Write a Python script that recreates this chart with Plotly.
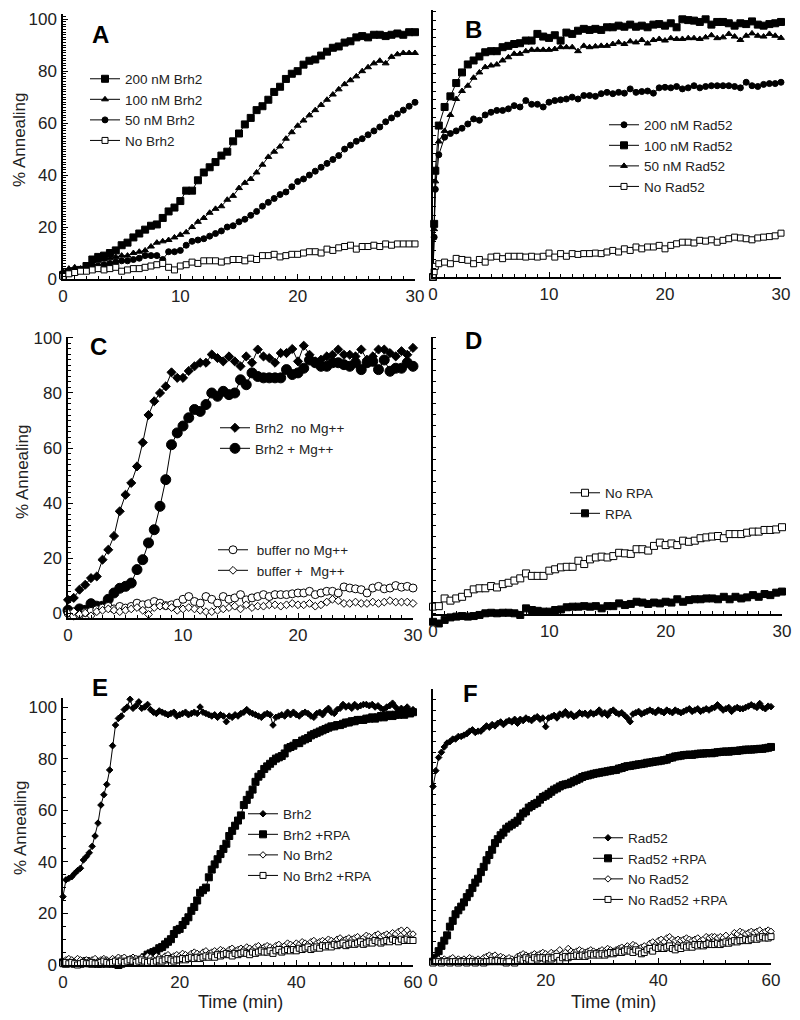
import plotly.graph_objects as go

# ---------------- DATA ----------------
tA = [i * 0.5 for i in range(61)]            # minutes, panels A, C, D
tB = [0, 0.1, 0.2] + [i * 0.5 for i in range(1, 61)]
tE = [i * 0.5 for i in range(121)]           # minutes, panels E, F

A_200 = [1.5, 2.5, 3, 3.5, 5, 7.5, 8.5, 9, 10, 11, 13, 14, 16, 17.5, 19, 20.5, 21, 23.5, 26, 27.5,
         30, 34, 34, 38, 41, 43, 45, 47.5, 49, 53, 56, 59.5, 62, 65, 66.5, 69, 72, 74, 77, 79,
         80, 82.5, 84, 84.5, 86, 87.5, 89, 89.5, 91, 91.5, 93, 93.5, 93, 94, 94, 93.5, 94, 94.5, 94, 95, 95]
A_100 = [3, 4, 4.5, 4, 5, 6, 7, 7.5, 8, 8.5, 9, 9, 10, 10.5, 11, 12.5, 14, 14.5, 15, 16,
         17, 18, 20, 22, 23.5, 25.5, 27, 28, 30.5, 32, 35, 37, 38.5, 41, 44, 47, 49, 51, 54, 56.5,
         59, 61, 63, 65, 67, 69, 71, 73, 75, 76.5, 78, 80, 81.5, 83, 84, 83, 85.5, 86.5, 87, 87, 87]
A_50 = [2, 2.5, 3, 3.5, 4, 4.5, 5, 5.5, 6, 6.5, 7, 7, 7.5, 8, 9, 9, 9, 7.5, 10.5, 10.5,
        11, 13, 14.5, 15, 15.5, 16.5, 17.5, 18.5, 20, 20.5, 22, 23, 24.5, 26, 28, 29.5, 31, 32.5, 33.5, 35.5,
        37.5, 38.5, 40, 41.5, 43, 44.5, 46, 47.5, 50, 51.5, 53, 54, 55.5, 57, 58.5, 60.5, 62, 63.5, 65, 66.5, 68]
A_no = [1, 2, 2.5, 3, 3, 3.5, 4, 3.5, 4, 4.5, 3, 3.5, 4, 4, 4.5, 5, 5.5, 6, 4.5, 3.5,
        5, 5.5, 6.5, 6, 7, 7, 7, 6.5, 7, 7.5, 7.5, 7, 8, 7.5, 9, 9, 9.5, 8.5, 9, 9.5,
        9.5, 10, 10.5, 10.5, 10, 11.5, 11, 12, 12.5, 13, 11.5, 12.5, 12.5, 13, 12.5, 13.5, 13, 13.5, 13.5, 13.5, 13.5]

B_200 = [0, 15, 33,
         46, 52.6, 54, 55, 56, 57.6, 59.5, 59, 61, 62, 62.7, 62.7, 63.3, 64.5, 64, 66.4, 65, 65, 64, 65.8,
         66.4, 66.7, 67, 67.7, 67, 68.3, 68.3, 68, 69, 69.5, 69, 69.5, 69.2, 70.8, 69.5, 69.8, 70, 69.2, 71.2, 71.4,
         71.2, 71.7, 70.8, 71.2, 72, 71.2, 71.7, 72, 72, 72, 72, 71.7, 71.2, 73.3, 72, 71.7, 72.5, 72.8, 72.8, 73.3]
B_100 = [0, 20, 40,
         57, 64, 68, 73, 77, 80, 81.5, 83, 84.6, 85, 85, 86.5, 87, 87.7, 88, 89, 89, 91.5, 90.5, 90,
         91, 89, 92, 91.5, 92.7, 93.4, 93, 93.4, 93, 94, 94, 94.6, 94.2, 95, 94.2, 94.6, 94, 95, 95.2, 94.6,
         95.5, 94, 97, 96.7, 96.5, 96, 97, 95, 96, 96, 95.5, 94.6, 95.5, 95.2, 96.2, 95, 94.6, 95.2, 95.5, 96]
B_50 = [0, 18, 36,
        51, 55, 61, 67, 70, 72, 75, 77, 79, 79.6, 80, 81.5, 82.7, 84, 84, 85, 85.5, 85.5, 85.5, 85.5,
        85.8, 86.5, 86.5, 86.5, 85, 87, 86.5, 86.8, 87, 87, 87.7, 88.3, 87.7, 88.7, 88.3, 89.2, 87.9, 89.2, 89.6, 89,
        89.9, 89.6, 89.6, 89.9, 89.9, 89.6, 90.2, 91, 89.9, 90.2, 91.5, 90.5, 89.2, 90.8, 91.7, 90.8, 90.5, 91.5, 90.8, 90]
B_no = [0, 2, 4,
        5, 5.6, 5, 7, 6.6, 6.3, 5, 6.6, 5.6, 7.5, 7.8, 6.9, 7.8, 7.8, 7.8, 7.5, 7.8, 7.5, 7.8, 9,
        7.5, 8.8, 7.8, 8.8, 8.5, 8.8, 8.8, 9, 8.8, 9.4, 10, 9.4, 10.6, 10, 11.3, 10.6, 11.3, 11.3, 11.9, 10.6,
        11.9, 12.5, 13.1, 13.1, 12.8, 13.8, 13.5, 14, 13.1, 13.8, 14.4, 15, 14.7, 14.4, 14, 14.7, 15, 15.2, 15.5, 16.5]

C_brh2_noMg = [4.8, 5.5, 8.5, 10.3, 12.7, 13.3, 19.4, 23, 28, 37, 43, 47.3, 53.3, 62, 72, 77, 80, 82.4, 87.5, 85.5,
               85.5, 88, 89.7, 91, 91, 94, 92.7, 91.5, 93.3, 91.5, 89.7, 93.3, 91, 95.8, 93.3, 92.7, 91, 94.5, 94.5, 96,
               91.5, 97.2, 93.9, 91.5, 92.1, 93.3, 93.9, 95.8, 93.9, 93.9, 93.3, 95.8, 92.1, 93.3, 95.8, 95.8, 94.5, 93.3, 95.2, 93.9, 96.4]
C_brh2_Mg = [1, 0, 1.5, 1, 3.4, 2.5, 2.5, 5, 7.3, 9, 9.7, 10.9, 15.8, 19.4, 25.5, 30.3, 38.8, 48.5, 61.2, 65.5,
             68, 71, 74, 73.3, 75.8, 80, 78.8, 80.6, 79.4, 80, 84.8, 83, 87.3, 86, 85.5, 85.5, 85.5, 85.5, 88.5, 86.7,
             87.3, 89, 92, 91, 89.7, 89.7, 91, 91, 90.3, 89.7, 91, 88.5, 91, 91.5, 88.5, 92, 87.9, 89, 89, 91, 89.7]
C_buf_noMg = [0, -1, -0.6, 0.2, 0.6, 1.2, 1.8, 2.4, 1.5, 2.4, 1.8, 2.4, 3.6, 3, 3.4, 4.2, 3.6, 2.7, 3, 3.6,
              5, 6, 4.2, 3.6, 6, 5, 3.6, 6, 5, 5.5, 6.7, 4.8, 5.5, 6, 6.7, 6, 6.7, 6.7, 6.7, 7,
              7.3, 7.3, 7.9, 6.7, 7.3, 7.9, 7.9, 7.3, 9.5, 9.1, 8.8, 8.5, 7.3, 9.1, 9.7, 8.8, 9.1, 10, 9.4, 9.7, 9.1]
C_buf_Mg = [0, 0.5, -0.5, 0, -1, 0.5, 1, 1.5, 1, 0.5, 1, 1.5, 2, 1, -0.5, 2, 2.5, 2.5, 2, 1,
            1.5, 2, 1.5, 1, 0.5, 0.5, 1, 1.5, 2, 2.5, 1.5, 3, 2, 2.5, 2.5, 3, 3, 2.5, 3, 3.5,
            3, 3, 3.5, 2.5, 3, 4, 5, 4.5, 3.5, 3.5, 4, 3.5, 3.5, 4, 3.5, 4, 4.5, 4, 4, 4, 3.5]

D_noRPA = [2.3, 2.5, 5.3, 4.5, 5.3, 5.9, 7.2, 8.6, 9, 9, 9.8, 9.3, 10.5, 11, 11.8, 12.6, 14.4, 13.5, 13.5, 13.5,
           15.4, 15.9, 16.6, 16.8, 16.8, 19, 17.8, 19.5, 20.2, 20.5, 20.2, 20.7, 21.9, 21.7, 21.5, 23.2, 23.2, 22.7, 24.4, 25.6,
           24.7, 25.3, 24.7, 26.3, 25.9, 26.3, 27.2, 27.5, 27.8, 28, 27.2, 28.7, 28.7, 28.7, 29.2, 29.6, 29.6, 30.2, 30.2, 30.4, 31.2]
D_RPA = [-3.2, -3.8, -2.5, -1.6, -1.3, -1.1, -1.3, -1.1, -0.7, -0.1, 0.1, -0.1, 0.1, 0.1, -0.1, -0.7, 1.7, 1.1, 0.8, 0.5,
         0.5, 1.1, 1.3, 2.1, 2.3, 2.3, 2.5, 2.3, 2.5, 1.7, 2.5, 2.5, 3.5, 2.9, 3.3, 4.1, 3.8, 3.3, 3.8, 3.5,
         4.1, 3.8, 5, 4.1, 4.7, 5, 5, 5.3, 5.3, 5, 5.9, 5, 5.9, 5.3, 5.7, 6.5, 5.9, 6.9, 6.5, 7.4, 7.8]

E_brh2 = [26.5, 33, 33.6, 34.2, 35.5, 36.6, 37.5, 40.7, 42, 43.5,
          46, 50, 55, 62, 66, 70, 75.6, 85, 93, 95.6,
          96.5, 99, 100, 103, 99.5, 100.5, 102, 99.5, 100, 101,
          99, 98, 97.5, 98.5, 98, 97.5, 97, 97.5, 98, 96.5,
          97, 97.5, 98, 97, 97.5, 98, 97.5, 100, 98, 97.5,
          97, 96.5, 97, 96, 97, 96.5, 94.3, 96.5, 96, 97,
          96.5, 97.5, 98, 99, 98, 97.5, 97, 96.5, 96, 97,
          97.5, 97, 93, 96, 96.5, 97, 96.5, 98, 97, 98,
          97, 96.5, 97.5, 98, 97.5, 96.5, 96, 97.5, 98, 97,
          98.5, 99.5, 98, 97.5, 99, 99.5, 101, 100, 100.5, 99.5,
          101, 100, 100.5, 101, 101, 100.5, 101, 100, 100.5, 99.5,
          99, 100, 100.5, 101.5, 100, 98.5, 99.5, 99, 100, 98.5,
          99]
E_brh2_RPA = [1, 0.5, 1.5, 1, 0.5, 1, 0.5, 1, 1.5, 1,
              0.5, 1, 0.5, 0.5, 1, 0.5, 1, 0.5, 0.5, 0,
              0.5, 1, 1, 1.5, 1, 1.5, 2, 2, 3, 4,
              4.5, 5, 5.5, 6.5, 7, 8, 9, 10, 12, 13.5,
              14, 15.5, 17, 18.5, 21, 22.5, 25, 28, 29, 30,
              34, 37, 39, 41, 43, 45, 47, 50, 52, 54,
              56, 58, 62, 64, 66, 68, 71, 73, 74, 76,
              77, 78, 79, 80, 80.5, 81, 82, 84, 84.5, 85,
              86, 86, 87, 87.5, 88, 89, 89.5, 90, 90.5, 91,
              91.5, 92, 92.5, 92.5, 93, 93, 93.5, 94, 94, 94.5,
              94.5, 95, 95, 95, 95.5, 95.5, 96, 95.5, 96, 96.5,
              96, 96.5, 97, 96.5, 97, 97, 97.5, 97, 98, 97.5,
              98]
E_no = [1.5, 2, 2.5, 2, 1.5, 2.5, 2, 1.5, 2, 1.5,
        2, 2.5, 1.5, 2, 2.5, 2, 1.5, 2.5, 2, 3,
        2.5, 3, 2, 2.5, 3, 2.5, 2, 3, 2.5, 3.5,
        3, 2.5, 3.5, 3, 2.5, 3.5, 4, 3, 3.5, 4,
        3.5, 4.5, 4, 3.5, 4.5, 5, 4.5, 4, 5, 5.5,
        4.5, 5, 5.5, 5, 6, 5.5, 5, 6, 6.5, 5.5,
        6, 6.5, 6, 7, 6.5, 6, 7, 7.5, 6.5, 7,
        7.5, 7, 6.5, 7.5, 8, 7, 7.5, 8.5, 8, 7.5,
        8.5, 8, 9, 8.5, 8, 9, 9.5, 8.5, 9, 9.5,
        9, 10, 9.5, 9, 10, 10.5, 9.5, 10, 10.5, 10,
        10.5, 11, 10, 10.5, 11.5, 11, 10.5, 11.5, 12, 11,
        11.5, 12, 11.5, 12.5, 12, 13, 13.5, 12.5, 13.5, 12,
        12]
E_no_RPA = [0.5, 1, 0.5, 1, 0.5, 0, 0.5, 1, 0.5, 0.5,
            1, 0.5, 0.5, 1, 1.5, 1, 0.5, 1, 1.5, 1,
            1.5, 1, 1.5, 2, 1.5, 1, 1.5, 2, 1.5, 1,
            1.5, 1, 1.5, 2, 1.5, 2, 2.5, 2, 1.5, 2,
            2, 2.5, 2, 2.5, 3, 2.5, 3, 2.5, 3, 3.5,
            3, 3.5, 3, 4, 3.5, 4, 4.5, 4, 3.5, 4.5,
            4, 4.5, 5, 4.5, 4, 5, 4.5, 5, 5.5, 5,
            5, 5.5, 4.5, 5.5, 6, 5, 5.5, 6, 5.5, 6,
            5.5, 6.5, 6, 6.5, 7, 6, 6.5, 7, 6.5, 7.5,
            7, 7.5, 7, 8, 7.5, 8, 8.5, 7.5, 8, 8.5,
            8, 8.5, 9, 8, 8.5, 9, 8.5, 9.5, 9, 8.5,
            9, 9.5, 9, 10, 9.5, 9, 10, 9.5, 10, 9.5,
            9.5]

F_rad52 = [67, 73, 78, 80, 82, 83.5, 84, 85, 85, 86,
           86, 86.5, 87, 88, 88.5, 87.5, 88, 88, 89, 90,
           89.5, 90.5, 90, 91, 91.5, 90.5, 91.5, 92, 91.5, 92.5,
           91, 92.5, 92, 93, 92.5, 92, 93, 93.5, 92.5, 93,
           89.7, 93, 93.5, 94, 93, 94.5, 94.2, 95.4, 94, 94.5,
           93.5, 94, 95, 94.5, 94.8, 94, 95, 94.5, 95, 96,
           94.5, 95, 94, 95.5, 96, 95, 94.5, 95, 94, 93,
           91.6, 94.5, 95, 95.5, 94.5, 95, 95.5, 96, 95.5, 95,
           96, 95.5, 95, 96, 95.5, 95, 96, 95.5, 95, 95.5,
           96, 96.5, 95.5, 96, 96.5, 95.5, 96, 96.5, 96, 96.7,
           97, 98, 97, 96, 96.5, 97, 95.5, 96.5, 97, 96.5,
           96.5, 97, 97.5, 98, 97.5, 97, 98.5, 97, 96.5, 97.5,
           97.3]
F_rad52_RPA = [0.5, 2, 4.5, 6.5, 8.5, 10.5, 13.8, 16, 18.5, 20,
               21.4, 23, 25, 26.5, 28.5, 30.5, 32, 34.5, 36.5, 39,
               41, 43, 45.5, 47, 48.5, 49.5, 51, 51.8, 52.5, 53.2,
               54, 55.5, 56.8, 57.5, 59, 59.6, 60.3, 60.8, 62, 63,
               63.5, 64.2, 65, 65.8, 66.3, 67, 67.5, 67.8, 68, 68.5,
               69, 69.5, 70, 70.6, 71, 71.2, 71.5, 71.8, 72, 72.2,
               72.4, 72.6, 72.8, 73, 73.2, 73.3, 73.8, 74, 74.4, 74.7,
               74.8, 75, 75.2, 75.4, 75.5, 75.7, 76, 76.1, 76.3, 76.5,
               76.6, 76.8, 77, 77.2, 77.8, 78, 78.4, 78.5, 78.7, 78.9,
               79, 79.1, 79, 79.2, 79.4, 79.5, 79.5, 79.6, 79.7, 79.6,
               79.8, 80, 80.1, 80.2, 80.3, 80.2, 80.4, 80.5, 80.5, 80.7,
               80.8, 81, 81, 81, 81.1, 81.2, 81.3, 81.3, 81.5, 81.7,
               82]
F_no = [0.5, 1, 1.5, 1, 1.5, 1, 1.5, 2, 1, 1.5,
        1, 1.5, 1, 2, 1.5, 1, 1.5, 1, 2, 2.5,
        3, 2.5, 3, 2, 2.5, 2, 1.5, 2, 1.5, 1,
        2.5, 3, 3.5, 3, 2.5, 3, 3.5, 3, 3.5, 4,
        3.5, 3, 4, 3.5, 4, 5, 3.5, 4, 5.5, 4.5,
        4, 4.5, 5, 4.5, 4, 4.5, 5, 4.5, 4, 4.5,
        5, 4.5, 5.5, 5, 4.5, 5, 5.5, 6, 5.5, 6.5,
        6, 7, 6.5, 5.5, 6, 6.5, 5.5, 7.5, 8, 7,
        8.5, 9, 8, 9.5, 10, 9, 8.5, 9, 8.5, 9,
        9.5, 9, 8.5, 9, 9.5, 8.5, 9, 10, 9.5, 10,
        10, 9.5, 10, 9.5, 10.5, 9, 10, 11.5, 11, 12,
        11.5, 11, 11.5, 12, 11.5, 12, 12.5, 11.5, 12, 12.5,
        12]
F_no_RPA = [0, 0.5, 0.5, 0, 0.5, 0.5, 0, 0.5, 0.5, 0,
            0.5, 0.5, 0, 0.5, 0.5, 0, 0.5, 0.5, 0, 0.5,
            0.5, 1, 0.5, 1, 0.5, 0.5, 0, 0.5, -0.5, 0,
            1, 1.5, 1, 2, 1.5, 1, 2, 1.5, 2, 2,
            1.5, 2, 1.5, 2, 2.5, 1, 2, 2.5, 2, 2.5,
            2.5, 3, 2.5, 3, 2.5, 3, 3.5, 3, 3.5, 3,
            3.5, 3, 3.5, 4, 3.5, 4, 4.5, 4, 4.5, 5,
            4.5, 4, 5, 4.5, 3.5, 4, 5, 5.5, 4.5, 6,
            5.5, 6, 5.5, 6, 6.5, 5.5, 5, 6, 5.5, 6.5,
            6, 6.5, 6, 7, 6.5, 7, 6.5, 7, 7.5, 7,
            7, 7.5, 7, 7.5, 8, 7.5, 8, 8.5, 8, 8.5,
            8.5, 9, 8.5, 9, 9.5, 9, 9.5, 10, 9.5, 9.5,
            10]

# ---------------- FIGURE ----------------
# The page body keeps the browser's 8 px margin, so the figure is 16 px
# smaller than the window and every position below is given in window pixels.
PAD = 8
W, H = 800 - 2 * PAD, 1020 - 2 * PAD
FONT = "Liberation Sans, Arial, sans-serif"
TXT = "#222222"


def fx(sx):
    return (sx - PAD) / W


def fy(sy):
    return 1 - (sy - PAD) / H


fig = go.Figure()


def add(x, y, name, ax, legend, symbol, size, fill):
    fig.add_trace(go.Scatter(
        x=x, y=y, name=name, mode="lines+markers",
        xaxis="x" + ax, yaxis="y" + ax, legend=legend,
        line=dict(color="black", width=1),
        marker=dict(symbol=symbol, size=size, color=fill,
                    line=dict(color="black", width=1)),
        cliponaxis=False))


# A
add(tA, A_200, "200 nM Brh2", "", "legend", "square", 7, "black")
add(tA, A_100, "100 nM Brh2", "", "legend", "triangle-up", 6, "black")
add(tA, A_50, "50 nM Brh2", "", "legend", "circle", 6, "black")
add(tA, A_no, "No Brh2", "", "legend", "square", 6, "white")
# B
add(tB, B_200, "200 nM Rad52", "2", "legend2", "circle", 6, "black")
add(tB, B_100, "100 nM Rad52", "2", "legend2", "square", 7, "black")
add(tB, B_50, "50 nM Rad52", "2", "legend2", "triangle-up", 6, "black")
add(tB, B_no, "No Rad52", "2", "legend2", "square", 6, "white")
# C
add(tA, C_brh2_noMg, "Brh2\u00a0 no\u00a0Mg++", "3", "legend3", "diamond", 7, "black")
add(tA, C_brh2_Mg, "Brh2 + Mg++", "3", "legend3", "circle", 10, "black")
add(tA, C_buf_noMg, "\u00a0buffer no Mg++", "3", "legend4", "circle", 8, "white")
add(tA, C_buf_Mg, "\u00a0buffer +\u00a0 Mg++", "3", "legend4", "diamond", 6, "white")
# D
add(tA, D_noRPA, "No RPA", "4", "legend5", "square", 7, "white")
add(tA, D_RPA, "RPA", "4", "legend5", "square", 7, "black")
# E
add(tE, E_brh2, "Brh2", "5", "legend6", "diamond", 5, "black")
add(tE, E_brh2_RPA, "Brh2 +RPA", "5", "legend6", "square", 7, "black")
add(tE, E_no, "No Brh2", "5", "legend6", "diamond", 5, "white")
add(tE, E_no_RPA, "No Brh2 +RPA", "5", "legend6", "square", 6, "white")
# F
add(tE, F_rad52, "Rad52", "6", "legend7", "diamond", 5, "black")
add(tE, F_rad52_RPA, "Rad52 +RPA", "6", "legend7", "square", 7, "black")
add(tE, F_no, "No Rad52", "6", "legend7", "diamond", 5, "white")
add(tE, F_no_RPA, "No Rad52 +RPA", "6", "legend7", "square", 6, "white")


def dx(a, b):
    return [fx(a), fx(b)]


def dy(bottom, top):
    return [fy(bottom), fy(top)]


tickfont = dict(family=FONT, size=17, color=TXT)


def xaxis(domain, anchor, rng, dtick, mdtick, position=None):
    d = dict(domain=domain, anchor=anchor, range=rng, dtick=dtick, tick0=0,
             showline=True, linecolor="black", linewidth=1.5,
             ticks="inside", ticklen=5, tickwidth=1, tickcolor="black",
             minor=dict(dtick=mdtick, tick0=0, ticks="inside", ticklen=3,
                        tickwidth=1, tickcolor="black", showgrid=False),
             showgrid=False, zeroline=False, tickfont=tickfont,
             ticklabelstandoff=1, automargin=False, ticklabeloverflow="allow")
    if position is not None:
        d["position"] = position
    return d


def yaxis(domain, anchor, rng, dtick, mdtick, labels):
    d = dict(domain=domain, anchor=anchor, range=rng, dtick=dtick, tick0=0,
             showline=True, linecolor="black", linewidth=1.5,
             ticks="inside", ticklen=5 if labels else 3, tickwidth=1, tickcolor="black",
             showgrid=False, zeroline=False, tickfont=tickfont,
             showticklabels=labels, ticklabelstandoff=1, automargin=False,
             ticklabeloverflow="allow")
    if mdtick:
        d["minor"] = dict(dtick=mdtick, tick0=0, ticks="inside", ticklen=3,
                          tickwidth=1, tickcolor="black", showgrid=False)
    return d


fig.update_layout(
    width=W, height=H,
    margin=dict(l=0, r=0, t=0, b=0, pad=0, autoexpand=False),
    paper_bgcolor="white", plot_bgcolor="white",
    font=dict(family=FONT, color=TXT),
    xaxis=xaxis(dx(63, 415), "y", [0, 30], 10, 1),
    yaxis=yaxis(dy(279, 14), "x", [0, 102], 20, 1, True),
    xaxis2=xaxis(dx(433, 781), "y2", [0, 30], 10, 1),
    yaxis2=yaxis(dy(277, 10), "x2", [0, 100.5], 10 / 3, None, False),
    xaxis3=xaxis(dx(68, 413), "y3", [0, 30], 10, 1),
    yaxis3=yaxis(dy(618, 336.6), "x3", [-1.8, 100.5], 20, 2, True),
    xaxis4=xaxis(dx(433, 782), "free", [0, 30], 10, 1, position=fy(615)),
    yaxis4=yaxis(dy(625.4, 336.6), "x4", [-4.5, 100.5], 4, None, False),
    xaxis5=xaxis(dx(63, 413), "y5", [0, 60], 20, 2),
    yaxis5=yaxis(dy(965, 698), "x5", [0, 103.5], 20, 5, True),
    xaxis6=xaxis(dx(433, 771), "y6", [0, 60], 20, 4),
    yaxis6=yaxis(dy(963, 689), "x6", [0, 104], 4, None, False),
)

legfont = dict(family=FONT, size=13.5, color=TXT)


def leg(text_x, first_y):
    # plotly legend: item text starts 40 px right of the box, first row centre ~15.5 px below its top
    return dict(x=fx(text_x - 40), y=fy(first_y - 15.5), xanchor="left", yanchor="top",
                bgcolor="rgba(0,0,0,0)", borderwidth=0, font=legfont,
                itemwidth=30, tracegroupgap=0, traceorder="normal")


fig.update_layout(
    legend=leg(125, 79),
    legend2=leg(644, 125),
    legend3=leg(255, 428),
    legend4=leg(253, 550),
    legend5=leg(605, 493),
    legend6=leg(283, 814),
    legend7=leg(628, 838),
)

ann = []
for letter, xp, yp in [("A", 100, 35), ("B", 473, 30), ("C", 98, 347),
                       ("D", 473, 341), ("E", 100, 687), ("F", 470, 693)]:
    ann.append(dict(text="<b>" + letter + "</b>", x=fx(xp), y=fy(yp),
                    xref="paper", yref="paper", showarrow=False,
                    xanchor="center", yanchor="middle",
                    font=dict(family=FONT, size=24, color="black")))
for xp, yp in [(19, 140), (22, 472), (20, 828)]:
    ann.append(dict(text="% Annealing", x=fx(xp), y=fy(yp), textangle=-90,
                    xref="paper", yref="paper", showarrow=False,
                    xanchor="center", yanchor="middle",
                    font=dict(family=FONT, size=17, color=TXT)))
for xp, yp in [(240, 1002), (613, 1002)]:
    ann.append(dict(text="Time (min)", x=fx(xp), y=fy(yp),
                    xref="paper", yref="paper", showarrow=False,
                    xanchor="center", yanchor="middle",
                    font=dict(family=FONT, size=18, color=TXT)))
fig.update_layout(annotations=ann)

fig.write_html("out.html")
